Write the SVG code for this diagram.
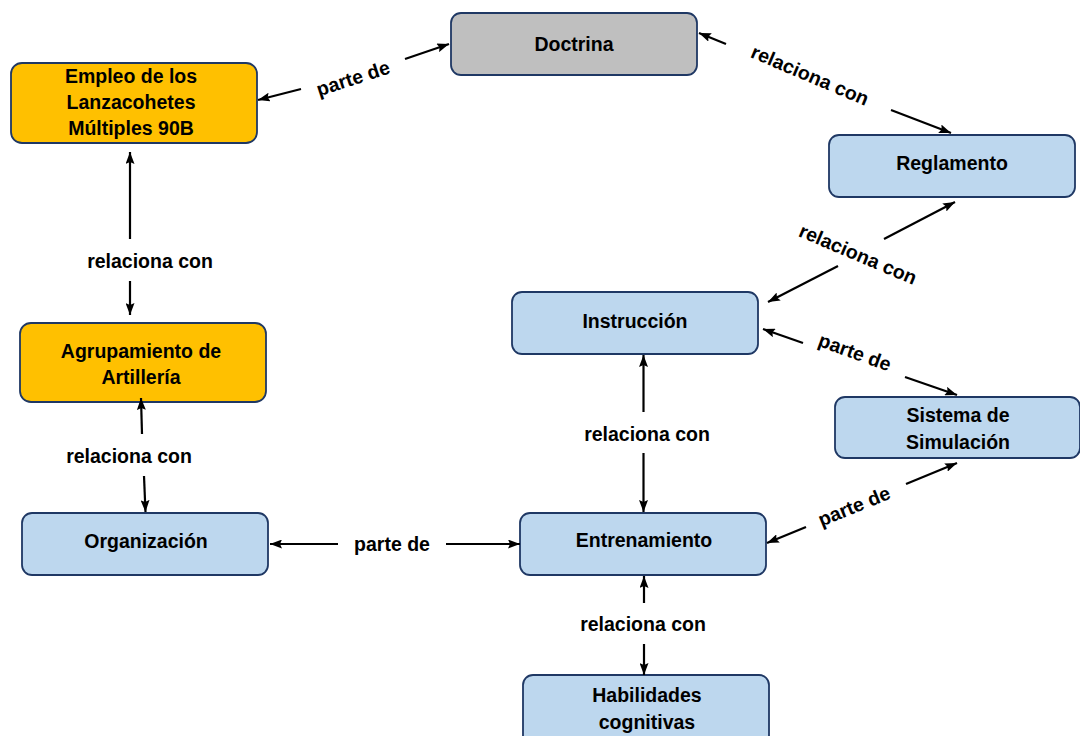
<svg xmlns="http://www.w3.org/2000/svg" width="1080" height="736" viewBox="0 0 1080 736">
<defs>
<marker id="ah" viewBox="0 0 12 9" refX="12" refY="4.5" markerWidth="12" markerHeight="9" markerUnits="userSpaceOnUse" orient="auto">
<path d="M0,0 L12,4.5 L0,9 L2,4.5 z" fill="#000"/>
</marker>
<style>
.n rect{stroke:#1F3864;stroke-width:1.8}
.o{fill:#FFC000}
.g{fill:#BFBFBF}
.b{fill:#BDD7EE}
text{font-family:"Liberation Sans",Arial,sans-serif;font-weight:bold;font-size:19.5px;fill:#000;text-anchor:middle}
.c line{stroke:#000;stroke-width:2.2;marker-end:url(#ah)}
</style>
</defs>
<rect width="1080" height="736" fill="#fff"/>
<g id="empleo" class="n"><rect class="o" x="11" y="63" width="246" height="80" rx="11"/>
<text x="131" y="83">Empleo de los</text><text x="131" y="109">Lanzacohetes</text><text x="131" y="135">Múltiples 90B</text></g>
<g id="doctrina" class="n"><rect class="g" x="451" y="13" width="246" height="62" rx="10"/>
<text x="574" y="51">Doctrina</text></g>
<g id="reglamento" class="n"><rect class="b" x="829" y="135" width="246" height="62" rx="10"/>
<text x="952" y="170">Reglamento</text></g>
<g id="instruccion" class="n"><rect class="b" x="512" y="292" width="246" height="62" rx="10"/>
<text x="635" y="327.5">Instrucción</text></g>
<g id="agrupamiento" class="n"><rect class="o" x="20" y="323" width="246" height="79" rx="11"/>
<text x="141" y="357.5">Agrupamiento de</text><text x="141" y="383.5">Artillería</text></g>
<g id="sistema" class="n"><rect class="b" x="835" y="397" width="245" height="61" rx="10"/>
<text x="958" y="422">Sistema de</text><text x="958" y="448.5">Simulación</text></g>
<g id="organizacion" class="n"><rect class="b" x="22" y="513" width="246" height="62" rx="10"/>
<text x="146" y="547.5">Organización</text></g>
<g id="entrenamiento" class="n"><rect class="b" x="520" y="513" width="246" height="62" rx="10"/>
<text x="644" y="547">Entrenamiento</text></g>
<g id="habilidades" class="n"><rect class="b" x="523" y="675" width="246" height="72" rx="10"/>
<text x="647" y="702">Habilidades</text><text x="647" y="728.5">cognitivas</text></g>
<g id="connectors" class="c">
<line x1="301" y1="89" x2="258" y2="100"/>
<line x1="405" y1="59" x2="449" y2="44"/>
<line x1="726" y1="44" x2="699" y2="33"/>
<line x1="891" y1="110" x2="951" y2="133"/>
<line x1="884" y1="239" x2="955" y2="202"/>
<line x1="838" y1="266" x2="768" y2="302"/>
<line x1="803" y1="343" x2="763" y2="329"/>
<line x1="905" y1="377" x2="957" y2="395"/>
<line x1="806" y1="527" x2="767" y2="543"/>
<line x1="906" y1="484" x2="957" y2="463"/>
<line x1="643.5" y1="412" x2="643.5" y2="355"/>
<line x1="643.5" y1="453" x2="643.5" y2="512"/>
<line x1="338" y1="544" x2="270" y2="544"/>
<line x1="446" y1="544" x2="520" y2="544"/>
<line x1="130" y1="239" x2="130" y2="152"/>
<line x1="130" y1="281" x2="130" y2="315"/>
<line x1="142" y1="434" x2="141" y2="398"/>
<line x1="144" y1="476" x2="145.5" y2="512"/>
<line x1="644" y1="603" x2="644" y2="576"/>
<line x1="644" y1="644" x2="644" y2="675"/>
<g id="labels">
<text transform="translate(353,78) rotate(-18)" y="7">parte de</text>
<text transform="translate(810,75) rotate(23)" y="7">relaciona con</text>
<text transform="translate(858,254) rotate(23)" y="7">relaciona con</text>
<text transform="translate(855,352) rotate(20)" y="7">parte de</text>
<text transform="translate(854,506) rotate(-22)" y="7">parte de</text>
<text x="647" y="441">relaciona con</text>
<text x="392" y="551">parte de</text>
<text x="150" y="268">relaciona con</text>
<text x="129" y="463">relaciona con</text>
<text x="643" y="631">relaciona con</text>
</g>
</g>
</svg>
